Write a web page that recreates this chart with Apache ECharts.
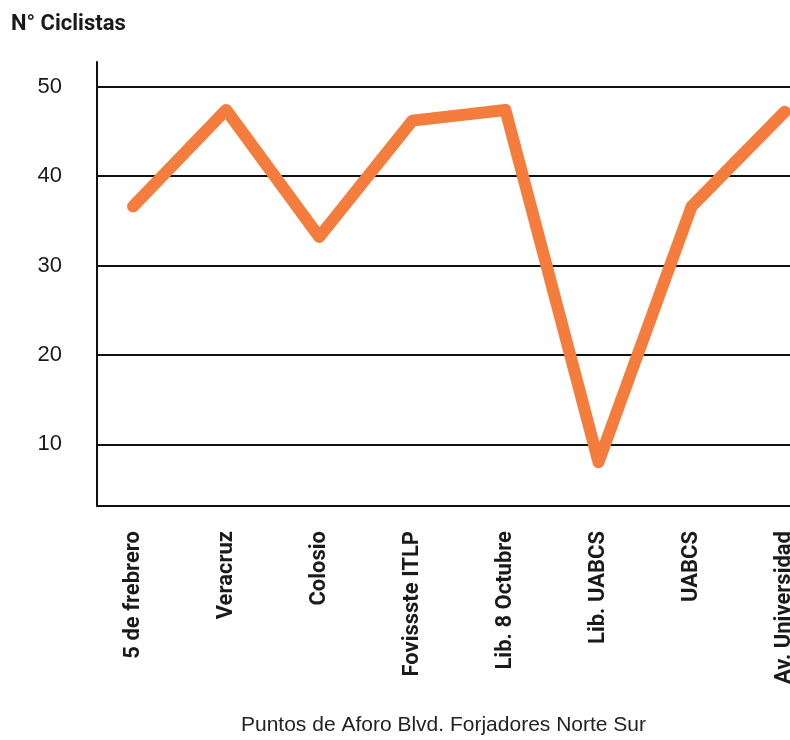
<!DOCTYPE html>
<html>
<head>
<meta charset="utf-8">
<script src="https://cdn.jsdelivr.net/npm/echarts@6/dist/echarts.min.js"></script>
<style>
  html, body { margin: 0; padding: 0; background: #fff; }
  #chart { width: 790px; height: 740px; }
</style>
</head>
<body>
<div id="chart"></div>
<script>
// Counting points along Blvd. Forjadores (north to south)
const puntos = ['5 de frebrero', 'Veracruz', 'Colosio', 'Fovissste ITLP', 'Lib. 8 Octubre', 'Lib. UABCS', 'UABCS', 'Av. Universidad'];
// Cyclists counted at each point
const ciclistas = [36.6, 47.4, 33.2, 46.2, 47.4, 8.0, 36.6, 47.2];
// Y-axis tick labels
const yTicks = [10, 20, 30, 40, 50];

const bold = "Roboto, 'Liberation Sans', sans-serif";
const regular = "'Liberation Sans', Arial, sans-serif";
const ink = '#1a1a1a';

const chart = echarts.init(document.getElementById('chart'), null, { renderer: 'canvas' });

chart.setOption({
  animation: false,
  backgroundColor: '#ffffff',
  title: {
    text: 'N° Ciclistas',
    left: 6,
    top: 8,
    textStyle: { fontFamily: bold, fontWeight: 'bold', fontSize: 22, color: ink }
  },
  grid: { left: 97, right: 0, top: 62, bottom: 234, containLabel: false, outerBoundsMode: 'none' },
  xAxis: {
    type: 'value',
    min: -0.387,
    max: 7.057,
    name: 'Puntos de Aforo Blvd. Forjadores Norte Sur',
    nameLocation: 'middle',
    nameGap: 209,
    nameTextStyle: { fontFamily: regular, fontSize: 21, color: '#222' },
    axisLine: { show: true, onZero: false, lineStyle: { color: '#111', width: 2 } },
    axisTick: { show: false, customValues: puntos.map((_, i) => i) },
    splitLine: { show: false },
    axisLabel: {
      customValues: puntos.map((_, i) => i),
      formatter: v => puntos[Math.round(v)],
      rotate: 90,
      margin: 25,
      fontFamily: bold,
      fontWeight: 'bold',
      fontSize: 22,
      color: ink
    }
  },
  yAxis: {
    type: 'value',
    min: 3.1,
    max: 52.76,
    axisLine: { show: true, onZero: false, lineStyle: { color: '#111', width: 2 } },
    axisTick: { show: false, customValues: yTicks },
    splitLine: { show: true, lineStyle: { color: '#111', width: 2 } },
    axisLabel: {
      customValues: yTicks,
      margin: 35,
      fontFamily: regular,
      fontSize: 22,
      color: ink
    }
  },
  series: [{
    type: 'line',
    data: ciclistas.map((v, i) => [i, v]),
    showSymbol: false,
    symbol: 'none',
    lineStyle: { color: '#F47C3C', width: 12, cap: 'round', join: 'round' },
    z: 5
  }]
});
</script>
</body>
</html>
